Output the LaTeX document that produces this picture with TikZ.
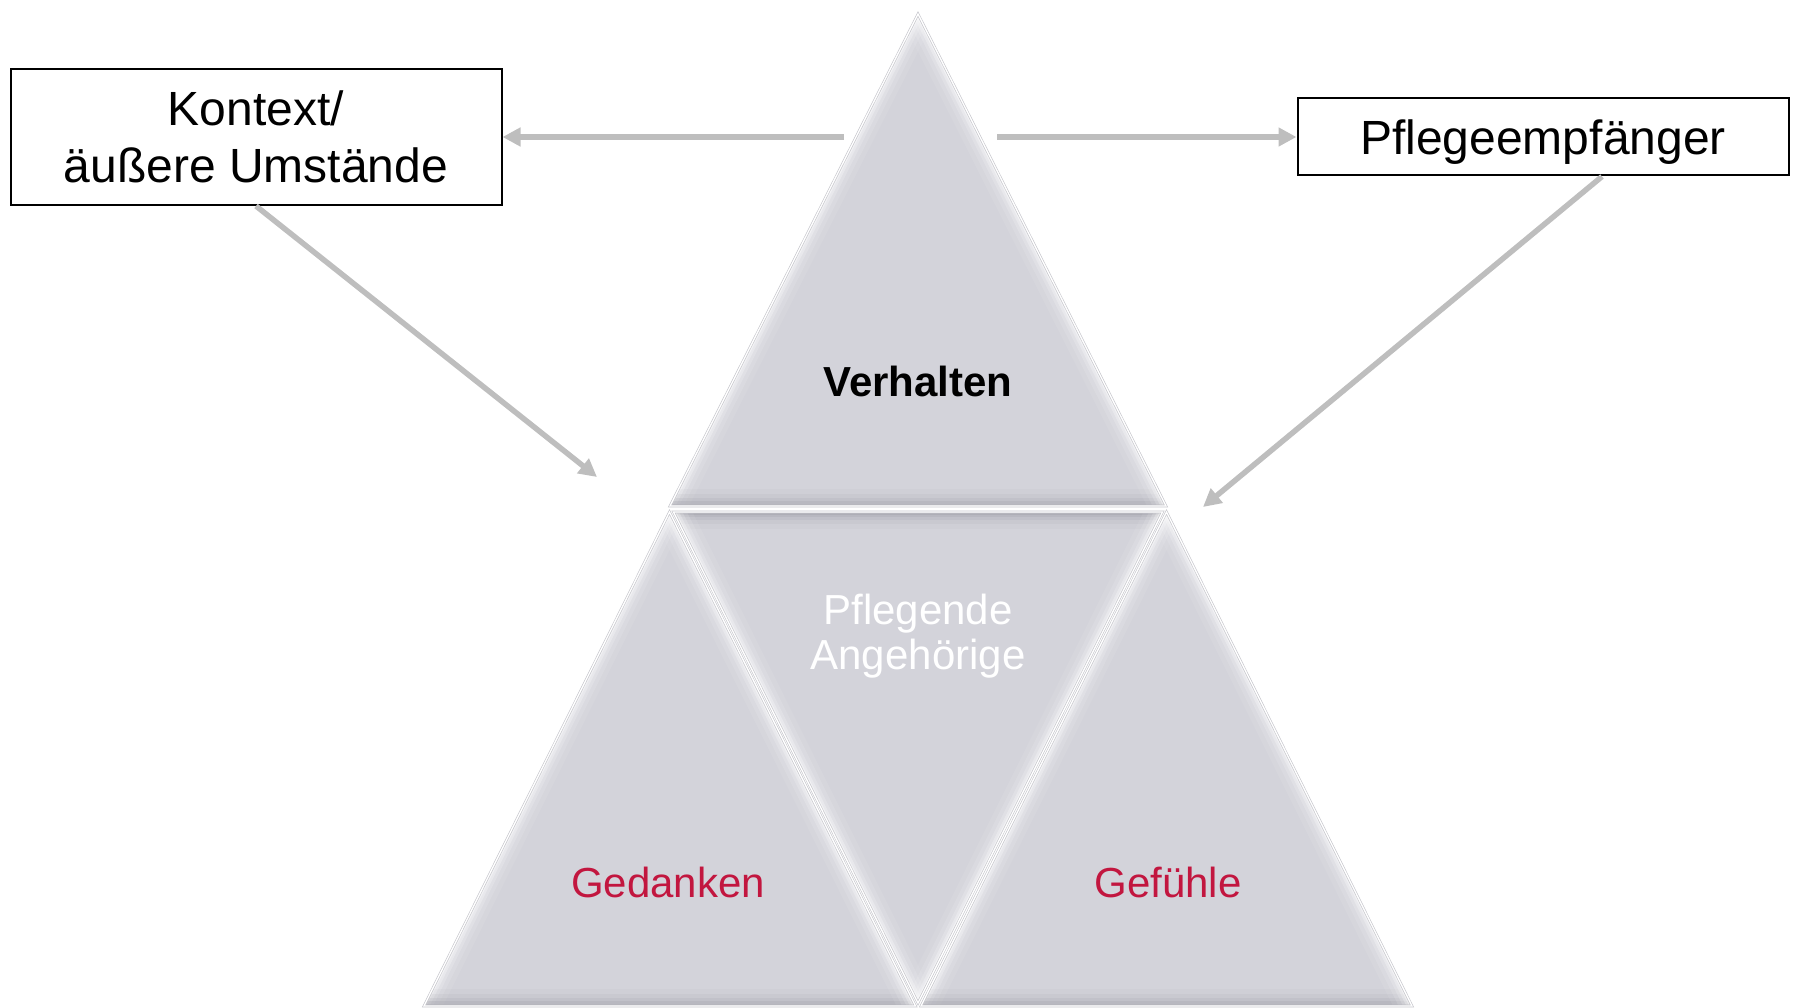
\documentclass[tikz,border=0pt]{standalone}
\usepackage{fontspec}
\setmainfont{Liberation Sans}
\usetikzlibrary{arrows.meta,calc}
\definecolor{trifill}{HTML}{D3D3DA}
\definecolor{darkedge}{HTML}{A2A2AA}
\definecolor{arrowgray}{HTML}{BEBEBE}
\definecolor{redtext}{HTML}{C2163F}
\definecolor{rimgray}{HTML}{C6C6CC}
\newcommand\glowline[3]{%
  \foreach \w/\o in {34/0.07,24/0.12,16/0.18,10/0.28,5/0.45}{%
    \draw[#1, line width=\w pt, opacity=\o] #2 -- #3;}%
}
\newcommand\bevtri[6]{% #1 #2 #3 corners ; #4 edge12 colour, #5 edge23 colour, #6 edge31 colour
  \fill[trifill] #1 -- #2 -- #3 -- cycle;
  \begin{scope}
    \clip #1 -- #2 -- #3 -- cycle;
    \glowline{#4}{#1}{#2}
    \glowline{#5}{#2}{#3}
    \glowline{#6}{#3}{#1}
  \end{scope}
  \draw[rimgray, line width=2.6pt, line join=miter] #1 -- #2 -- #3 -- cycle;
  \draw[white, line width=1.3pt, line join=miter] #1 -- #2 -- #3 -- cycle;
}
\tikzset{
  box/.style={draw=black, line width=2pt, fill=white, align=center, inner sep=0pt},
  conn/.style={draw=arrowgray, line width=5.5pt, -{Triangle[length=18pt,width=18pt]}},
  label/.style={align=center, inner sep=0pt, font=\fontsize{42}{45}\selectfont},
}
\begin{document}
\begin{tikzpicture}[x=1pt,y=-1pt]
\useasboundingbox (0,0) rectangle (1799,1008);
% triangles
\bevtri{(918,14)}{(670,506)}{(1166,506)}{white}{darkedge}{white}
\bevtri{(669.5,512)}{(424,1006)}{(915.5,1006)}{white}{darkedge}{white}
\bevtri{(673.5,512)}{(1162.5,512)}{(918,1003)}{darkedge}{white}{white}
\bevtri{(1166.5,512)}{(921,1006)}{(1412,1006)}{white}{darkedge}{white}
% labels
\node[label, font=\fontsize{42}{45}\selectfont\bfseries] (verh) at (918,381) {Verhalten};
\node[label, text=white] (pfl) at (918,636) {Pflegende\\Angehörige};
\node[label, text=redtext] (ged) at (668,882) {Gedanken};
\node[label, text=redtext] (gef) at (1168,882) {Gefühle};
% boxes
\node[box, minimum width=491pt, minimum height=136pt, font=\fontsize{48}{57}\selectfont] (ctx) at (256,137) {Kontext/\\äußere Umstände};
\node[box, minimum width=491pt, minimum height=77pt, text depth=0pt, font=\fontsize{48}{56}\selectfont] (pe) at (1543,137) {Pflegeempfänger};
% connector endpoints
\coordinate (hl) at (844,137);
\coordinate (hr) at (997,137);
\coordinate (dl) at (597,477);
\coordinate (dr) at (1203,507);
\coordinate (pes) at ($(pe.south)+(59,0)$);
% connectors
\draw[conn] (hl) -- (ctx.east);
\draw[conn] (hr) -- (pe.west);
\draw[conn] (ctx.south) -- (dl);
\draw[conn] (pes) -- (dr);
\end{tikzpicture}
\end{document}
